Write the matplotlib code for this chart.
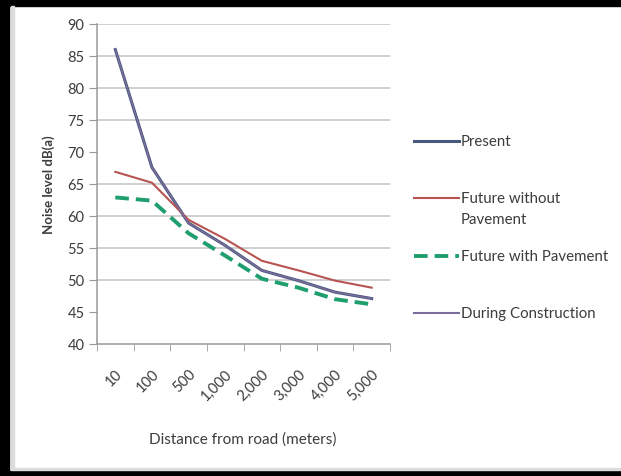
import matplotlib
matplotlib.use("Agg")
import matplotlib.pyplot as plt
from matplotlib.lines import Line2D
from matplotlib.patches import Rectangle

# ---- data ----
categories = ["10", "100", "500", "1,000", "2,000", "3,000", "4,000", "5,000"]
present = [86.0, 67.6, 58.9, 55.4, 51.5, 49.9, 48.1, 47.1]
future_without = [66.9, 65.2, 59.4, 56.4, 53.0, 51.5, 49.9, 48.8]
future_with = [62.9, 62.4, 57.3, 53.8, 50.2, 48.8, 47.0, 46.2]
construction = [86.0, 67.6, 58.9, 55.4, 51.5, 49.9, 48.1, 47.1]
series_names = ["Present", "Future without\nPavement", "Future with Pavement", "During Construction"]
y_ticks = [40, 45, 50, 55, 60, 65, 70, 75, 80, 85, 90]
grid_levels = [50, 55, 60, 65, 75, 80, 85, 90]

plt.rcParams['font.family'] = ['Lato', 'DejaVu Sans']
TXT = "#3c3c3c"
C_PRESENT = "#44597c"
C_WITHOUT = "#b85450"
C_WITH = "#1f9e6e"
C_CONSTR = "#7c6c9c"

W, H = 621, 477
fig = plt.figure(figsize=(W / 100, H / 100), dpi=100)
fig.patch.set_facecolor("white")

# outer frame
fig.add_artist(Rectangle((0, 1 - 7 / H), 1, 7 / H, transform=fig.transFigure, color="black", zorder=0))
fig.add_artist(Rectangle((0, 0), 9 / W, 1, transform=fig.transFigure, color="black", zorder=0))
fig.add_artist(Rectangle((0, 0), 1, 5 / H, transform=fig.transFigure, color="black", zorder=0))
fig.add_artist(Rectangle((11 / W, 7 / H), 3 / W, 1 - 14 / H, transform=fig.transFigure, color="#dcdcdc", zorder=0))
fig.add_artist(Rectangle((11 / W, 6 / H), 1 - 11 / W, 2 / H, transform=fig.transFigure, color="#dcdcdc", zorder=0))

ax = fig.add_axes([97 / W, (H - 345) / H, 293 / W, 320 / H])
x = list(range(len(categories)))

for g in grid_levels:
    ax.axhline(g, color="#c4c4c4", lw=1.1, zorder=1)

ax.plot(x, present, color=C_PRESENT, lw=2.2, zorder=3, solid_joinstyle="round")
ax.plot(x, future_without, color=C_WITHOUT, lw=1.5, zorder=3)
ax.plot(x, future_with, color=C_WITH, lw=2.8, ls=(0, (3.5, 1.8)), zorder=2)
ax.plot(x, construction, color=C_CONSTR, lw=1.1, zorder=4)

ax.set_xlim(-0.5, len(categories) - 0.5)
ax.set_ylim(40, 90)
ax.set_yticks(y_ticks)
ax.set_yticklabels([str(v) for v in y_ticks], fontsize=10.5, color=TXT)
ax.set_xticks(x)
ax.set_xticklabels(categories, rotation=45, ha="right", va="top",
                   rotation_mode="anchor", fontsize=10.5, color=TXT)
ax.set_xticks([i - 0.5 for i in range(len(categories) + 1)], minor=True)
ax.tick_params(axis="x", which="major", length=0, pad=16)
ax.tick_params(axis="x", which="minor", length=5, color="#9a9a9a", direction="out")
ax.tick_params(axis="y", length=6, color="#9a9a9a", pad=3)

for s in ["top", "right"]:
    ax.spines[s].set_visible(False)
for s in ["left", "bottom"]:
    ax.spines[s].set_color("#9a9a9a")
    ax.spines[s].set_linewidth(1.1)

ax.set_ylabel("Noise level dB(a)", fontsize=9.5, fontweight="bold", color=TXT, labelpad=9)
fig.text(243 / W, 1 - 440 / H, "Distance from road (meters)", fontsize=11, color=TXT,
         ha="center", va="center")

# legend (manual layout)
legend_specs = [
    (series_names[0], 142, dict(color=C_PRESENT, lw=2.2)),
    (series_names[1], 199, dict(color=C_WITHOUT, lw=1.5)),
    (series_names[2], 257, dict(color=C_WITH, lw=2.8, ls=(0, (3.5, 1.8)))),
    (series_names[3], 314, dict(color=C_CONSTR, lw=1.5)),
]
for name, ypix, style in legend_specs:
    yf = 1 - ypix / H
    fig.add_artist(Line2D([414 / W, 459 / W], [yf, yf], transform=fig.transFigure, **style))
    fig.text(461 / W, yf + 7 / H, name, fontsize=10.8, color=TXT, ha="left", va="top",
             linespacing=1.6)

fig.savefig("out.png", dpi=100)
